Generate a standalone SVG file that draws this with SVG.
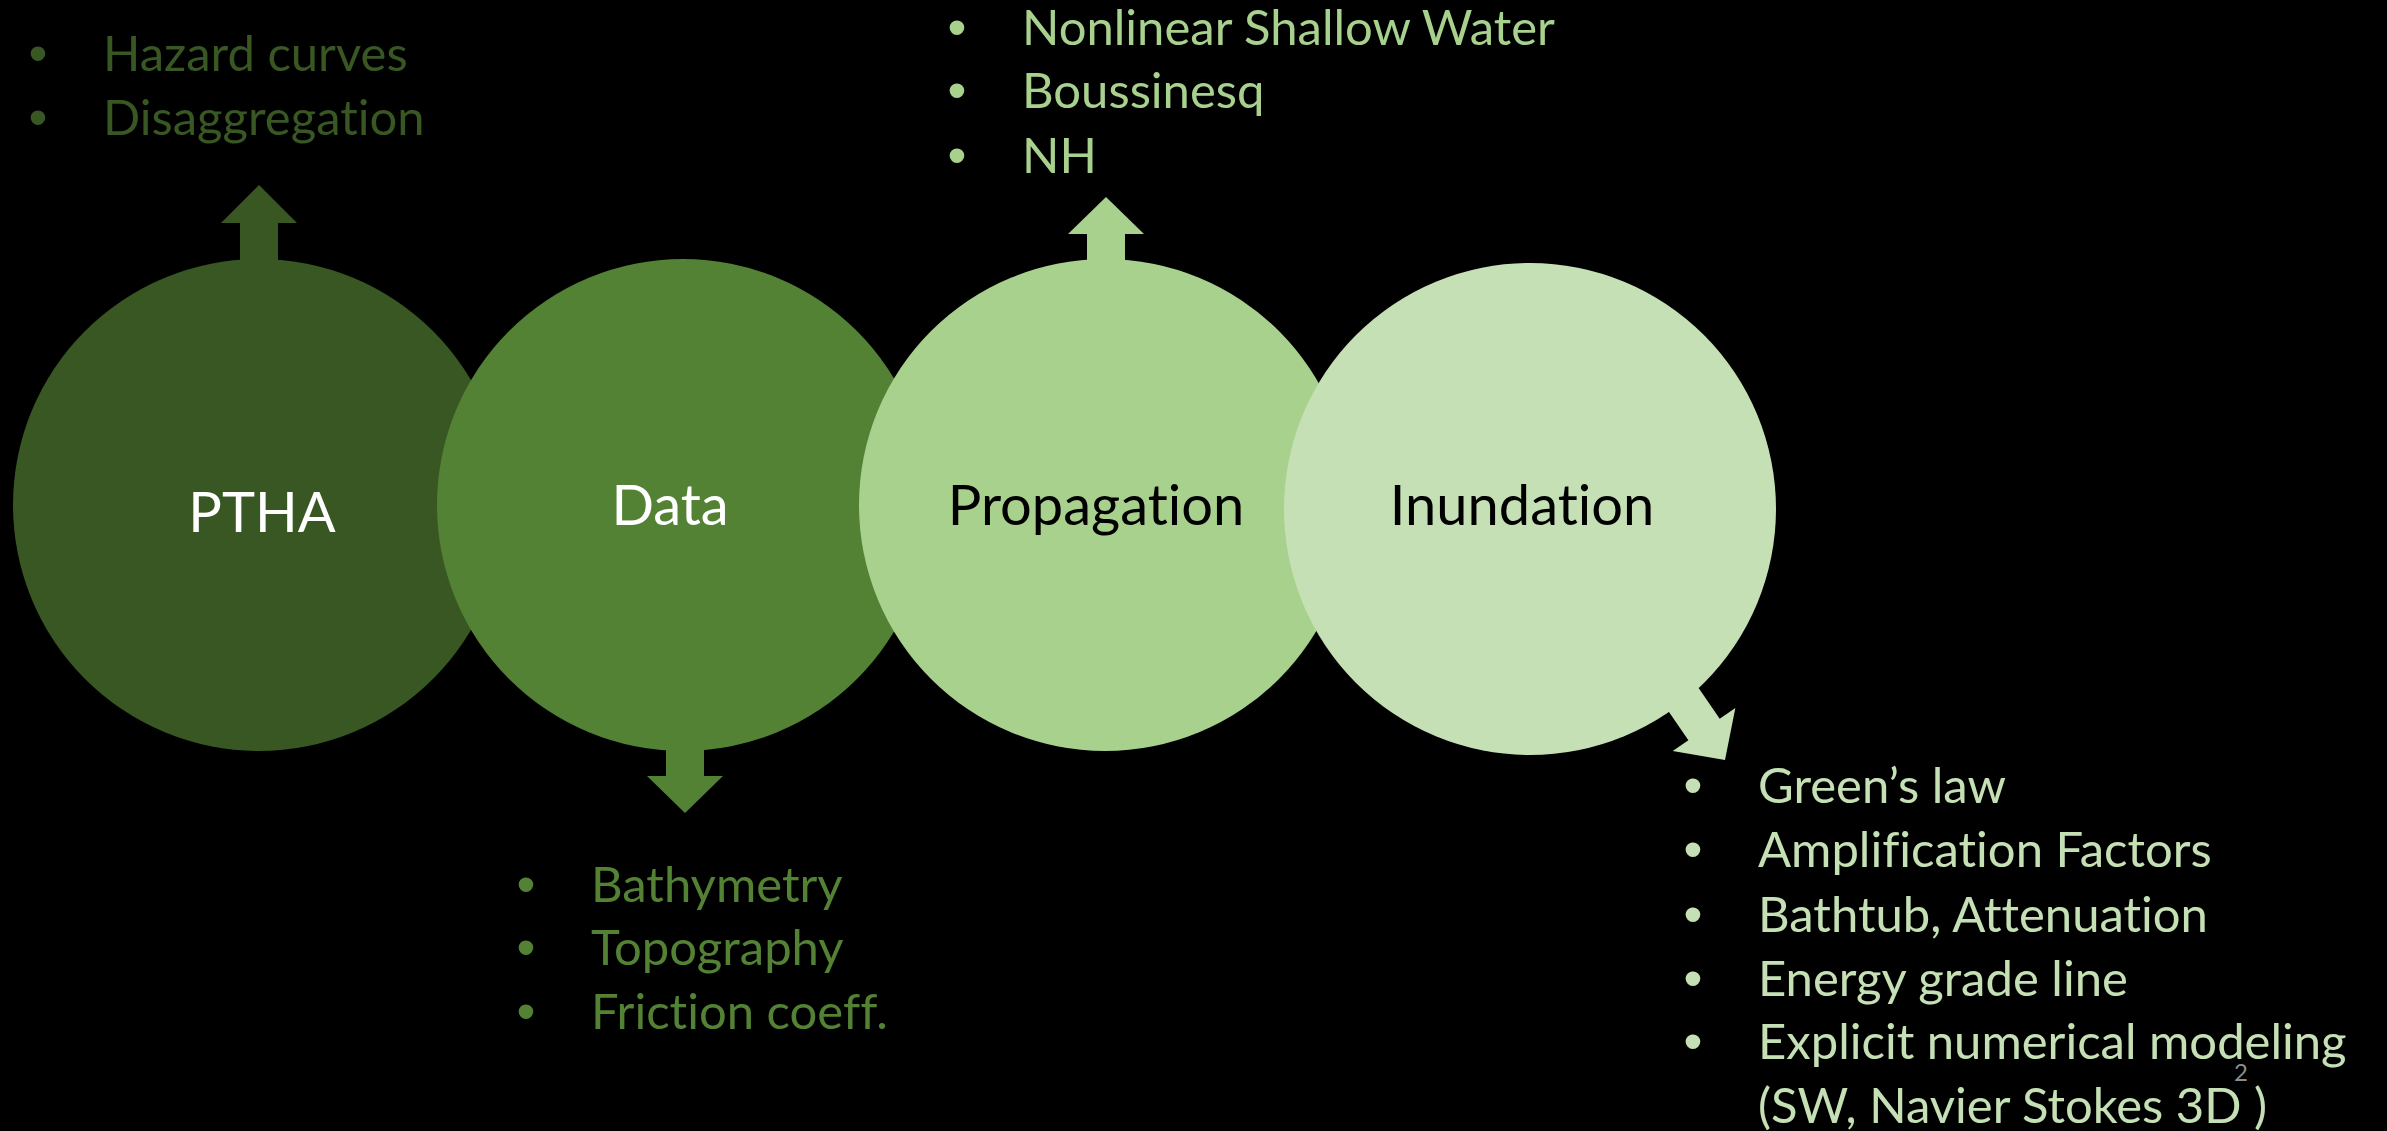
<svg xmlns="http://www.w3.org/2000/svg" width="2387" height="1131" viewBox="0 0 2387 1131">
  <style>
    .lbl { font-family: Lato, "Open Sans", sans-serif; font-size: 56px; text-anchor: middle; font-variant-ligatures: none; }
    .item { font-family: Lato, "Open Sans", sans-serif; font-size: 49px; font-variant-ligatures: none; }
    .bul { font-family: "Liberation Sans", Arial, sans-serif; font-size: 54px; text-anchor: middle; }
    .c1 { fill: #385723; }
    .c2 { fill: #548235; }
    .c3 { fill: #A9D18E; }
    .c4 { fill: #C5E0B4; }
  </style>
  <rect x="0" y="0" width="2387" height="1131" fill="#000000"/>

  <g id="connectors">
    <polygon class="c1" points="259,185 297,223 278,223 278,275 240,275 240,223 221,223"/>
    <polygon class="c2" points="685,813 723,776 704,776 704,735 666,735 666,776 647,776"/>
    <polygon class="c3" points="1106,197 1144,234 1125,234 1125,275 1087,275 1087,234 1068,234"/>
    <polygon class="c4" transform="translate(1725,760) rotate(-34.5)" points="0,0 38,-37 19,-37 19,-90 -19,-90 -19,-37 -38,-37"/>
  </g>

  <g id="node-ptha">
    <circle class="c1" cx="259" cy="505" r="246"/>
    <text class="lbl" x="262" y="532" fill="#FFFFFF">PTHA</text>
  </g>
  <g id="node-data">
    <circle class="c2" cx="683" cy="505" r="246"/>
    <text class="lbl" x="670" y="525" fill="#FFFFFF">Data</text>
  </g>
  <g id="node-propagation">
    <circle class="c3" cx="1105" cy="505" r="246"/>
    <text class="lbl" x="1096" y="525" fill="#000000">Propagation</text>
  </g>
  <g id="node-inundation">
    <circle class="c4" cx="1530" cy="509" r="246"/>
    <text class="lbl" x="1522" y="525" fill="#000000">Inundation</text>
  </g>

  <g id="list-ptha" fill="#385723">
    <text class="bul" x="38" y="72">•</text>
    <text class="item" x="103" y="71">Hazard curves</text>
    <text class="bul" x="38" y="136">•</text>
    <text class="item" x="103" y="135">Disaggregation</text>
  </g>

  <g id="list-propagation" fill="#A9D18E">
    <text class="bul" x="957" y="46">•</text>
    <text class="item" x="1022" y="45">Nonlinear Shallow Water</text>
    <text class="bul" x="957" y="109">•</text>
    <text class="item" x="1022" y="108">Boussinesq</text>
    <text class="bul" x="957" y="174">•</text>
    <text class="item" x="1022" y="173">NH</text>
  </g>

  <g id="list-data" fill="#548235">
    <text class="bul" x="526" y="903">•</text>
    <text class="item" x="591" y="902">Bathymetry</text>
    <text class="bul" x="526" y="966">•</text>
    <text class="item" x="591" y="965">Topography</text>
    <text class="bul" x="526" y="1030">•</text>
    <text class="item" x="591" y="1029">Friction coeff.</text>
  </g>

  <g id="list-inundation" fill="#C5E0B4">
    <text class="bul" x="1693" y="804">•</text>
    <text class="item" x="1758" y="803">Green’s law</text>
    <text class="bul" x="1693" y="868">•</text>
    <text class="item" x="1758" y="867">Amplification Factors</text>
    <text class="bul" x="1693" y="933">•</text>
    <text class="item" x="1758" y="932">Bathtub, Attenuation</text>
    <text class="bul" x="1693" y="997">•</text>
    <text class="item" x="1758" y="996">Energy grade line</text>
    <text class="bul" x="1693" y="1060">•</text>
    <text class="item" x="1758" y="1059">Explicit numerical modeling</text>
    <text class="item" x="1758" y="1123">(SW, Navier Stokes 3D )</text>
  </g>

  <text id="page-number" x="2241" y="1081" font-family="Lato, sans-serif" font-size="24" fill="#8C8C8C" text-anchor="middle">2</text>
</svg>
